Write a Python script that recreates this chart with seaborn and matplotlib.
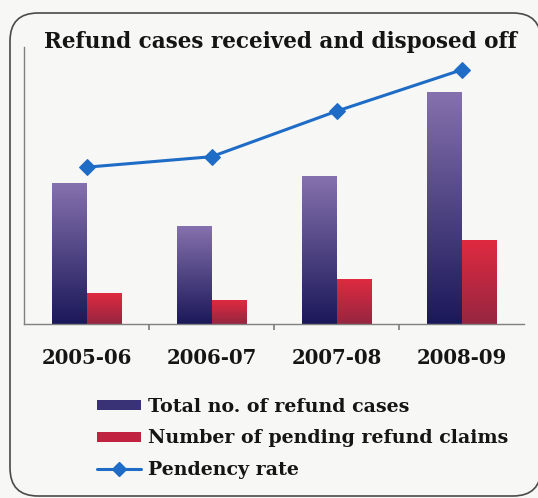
import numpy as np
import pandas as pd
import matplotlib
matplotlib.use('Agg')
import matplotlib.pyplot as plt
import seaborn as sns
from matplotlib.patches import FancyBboxPatch, Patch
from matplotlib.lines import Line2D
from matplotlib.colors import LinearSegmentedColormap

# data (relative units)
years = ['2005-06', '2006-07', '2007-08', '2008-09']
total_cases = [141, 98, 148, 232]
pending_claims = [31, 24, 45, 84]
pendency_rate = [22.4, 23.9, 30.4, 36.3]
series_names = ['Total no. of refund cases', 'Number of pending refund claims']

bg = '#f7f7f5'
purple_top, purple_bot = '#8571ad', '#1b1859'
red_top, red_bot = '#df2a40', '#962640'
line_col = '#1f6cc6'
text_col = '#151515'

sns.set_theme(style='white')
plt.rcParams['font.family'] = ['DejaVu Serif']
plt.rcParams['font.weight'] = 'bold'

fig = plt.figure(figsize=(5.38, 4.98), dpi=100, facecolor=bg)

# rounded frame drawn in pixel coordinates
frame_ax = fig.add_axes([0, 0, 1, 1], zorder=-5)
frame_ax.set_xlim(0, 538)
frame_ax.set_ylim(498, 0)
frame_ax.axis('off')
frame_ax.add_patch(FancyBboxPatch((10, 13), 531, 483,
                                  boxstyle='round,pad=0,rounding_size=28',
                                  facecolor=bg, edgecolor='#4a4a4a', lw=1.2))

ax = fig.add_axes([24 / 538, 174 / 498, 500 / 538, 277 / 498])
ax.set_facecolor('none')

df = pd.DataFrame({
    'year': years * 2,
    'value': total_cases + pending_claims,
    'series': [series_names[0]] * 4 + [series_names[1]] * 4,
})
sns.barplot(data=df, x='year', y='value', hue='series', ax=ax,
            palette=[purple_bot, red_bot], width=0.55, gap=0,
            legend=False, saturation=1)

# gradient fill for each bar
cmaps = {
    purple_bot: LinearSegmentedColormap.from_list('pur', [purple_bot, purple_top]),
    red_bot: LinearSegmentedColormap.from_list('red', [red_bot, red_top]),
}
grad = np.linspace(0, 1, 256).reshape(-1, 1)
for i, bar in enumerate(ax.patches):
    x0, y0 = bar.get_x(), bar.get_y()
    w, h = bar.get_width(), bar.get_height()
    cmap = cmaps[purple_bot] if i < 4 else cmaps[red_bot]
    img = ax.imshow(grad, cmap=cmap, aspect='auto', origin='lower',
                    extent=[x0, x0 + w, y0, y0 + h], zorder=2)
    img.set_clip_path(bar)
    bar.set_edgecolor('none')
ax.set_xlim(-0.5, 3.5)
ax.set_ylim(0, 277)

# pendency rate on a second axis
ax2 = ax.twinx()
sns.lineplot(x=np.arange(len(years)), y=pendency_rate, ax=ax2, color=line_col,
             lw=2.2, marker='D', markersize=8, markeredgecolor=line_col)
ax2.set_ylim(0, 277 / 7.0)
ax2.axis('off')

for s in ['top', 'right']:
    ax.spines[s].set_visible(False)
for s in ['left', 'bottom']:
    ax.spines[s].set_color('#808080')
    ax.spines[s].set_linewidth(1.0)
ax.set_yticks([])
ax.set_ylabel('')
ax.set_xlabel('')

# labels at category centres, small marks between categories
ax.set_xticks(range(len(years)))
ax.set_xticklabels(years, fontsize=14.2, fontweight='bold', color=text_col)
ax.tick_params(axis='x', length=0, pad=17)
ax.vlines(np.arange(len(years) - 1) + 0.5, -0.02, 0, transform=ax.get_xaxis_transform(),
          colors='#707070', lw=1.1, clip_on=False)

fig.text(281 / 538, 1 - 42 / 498, 'Refund cases received and disposed off',
         ha='center', va='center', fontsize=15.5, fontweight='bold', color=text_col)

handles = [
    Patch(facecolor='#3a3276', edgecolor='none'),
    Patch(facecolor='#c0223f', edgecolor='none'),
    Line2D([0], [0], color=line_col, lw=2.2, marker='D', markersize=7),
]
labels = series_names + ['Pendency rate']
leg = fig.legend(handles, labels, loc='upper left',
                 bbox_to_anchor=(80 / 538, 1 - 381 / 498),
                 frameon=False, handlelength=2.3, handleheight=0.45,
                 handletextpad=0.35, labelspacing=0.7,
                 prop={'weight': 'bold', 'size': 13.7})
for t in leg.get_texts():
    t.set_color(text_col)

fig.savefig('out.png', dpi=100, facecolor=bg)
